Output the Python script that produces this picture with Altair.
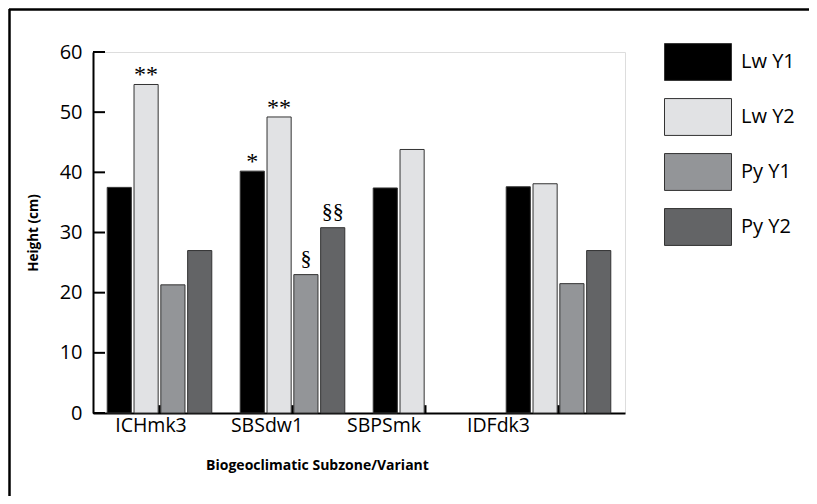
import altair as alt
import pandas as pd

categories = ["ICHmk3", "SBSdw1", "SBPSmk", "IDFdk3"]
series = ["Lw Y1", "Lw Y2", "Py Y1", "Py Y2"]
lw_y1 = [37.5, 40.2, 37.4, 37.6]
lw_y2 = [54.6, 49.2, 43.8, 38.1]
py_y1 = [21.3, 23.0, None, 21.5]
py_y2 = [27.0, 30.8, None, 27.0]
ann_lw_y1 = ["", "*", "", ""]
ann_lw_y2 = ["**", "**", "", ""]
ann_py_y1 = ["", "§", "", ""]
ann_py_y2 = ["", "§§", "", ""]
y_ticks = [0, 10, 20, 30, 40, 50, 60]
colors = ["#000000", "#e1e2e4", "#939598", "#636466"]
label_shift = [-8.5, -25.5, -41.5, -60]

rows = []
for s, vals, anns in zip(series, [lw_y1, lw_y2, py_y1, py_y2],
                         [ann_lw_y1, ann_lw_y2, ann_py_y1, ann_py_y2]):
    for c, v, a in zip(categories, vals, anns):
        if v is not None:
            rows.append({"cat": c, "series": s, "value": v, "ann": a})
df = pd.DataFrame(rows)
ticks_df = pd.DataFrame({"value": y_ticks})
cats_df = pd.DataFrame({"cat": categories})

FONT = "Open Sans"
W, H = 532, 361

label_offset = {
    "condition": [
        {"test": f"datum.label === '{c}'", "value": o}
        for c, o in zip(categories[:-1], label_shift[:-1])
    ],
    "value": label_shift[-1],
}

x_scale = alt.Scale(domain=categories, paddingInner=0, paddingOuter=0)
y_scale = alt.Scale(domain=[0, 60], nice=False)

x_enc = alt.X(
    "cat:N",
    scale=x_scale,
    sort=categories,
    axis=alt.Axis(
        title="Biogeoclimatic Subzone/Variant",
        titleFont=FONT, titleFontSize=14, titleFontWeight="bold",
        titleX=224, titleY=52, titleAlign="center", titleBaseline="middle",
        labelFont=FONT, labelFontSize=19.5, labelColor="#000",
        labelAngle=0, labelPadding=3, labelOffset=label_offset,
        ticks=False, domainColor="#000", domainWidth=2, grid=False,
    ),
)

y_enc = alt.Y(
    "value:Q",
    scale=y_scale,
    axis=alt.Axis(
        title="Height (cm)",
        titleFont=FONT, titleFontSize=13.5, titleFontWeight="bold",
        titleX=-60, titleY=H / 2, titleAngle=270, titleAlign="center",
        titleBaseline="middle",
        values=y_ticks, labelFont=FONT, labelFontSize=20, labelColor="#000",
        labelPadding=11, ticks=False, domainColor="#000", domainWidth=2,
        grid=False,
    ),
)

legend = alt.Legend(
    title=None, orient="none", legendX=571, legendY=-24,
    symbolType="M-1,-0.55L1,-0.55L1,0.55L-1,0.55Z", symbolSize=4489,
    symbolStrokeColor="#333", symbolStrokeWidth=1, symbolOpacity=1,
    labelFont=FONT, labelFontSize=20, labelColor="#000", labelOffset=9,
    rowPadding=-4, padding=0,
)

bars = alt.Chart(df).mark_bar(stroke="#333", strokeWidth=1).encode(
    x=x_enc,
    xOffset=alt.XOffset("series:N", sort=series,
                        scale=alt.Scale(domain=series, paddingInner=0.1, paddingOuter=0.53)),
    y=y_enc,
    color=alt.Color("series:N", sort=series,
                    scale=alt.Scale(domain=series, range=colors), legend=legend),
)

ann_stars = alt.Chart(df).transform_filter("indexof(datum.ann, '*') >= 0").mark_text(
    font="Liberation Serif", fontSize=24, baseline="alphabetic", dy=-2, color="#000"
).encode(
    x=alt.X("cat:N", scale=x_scale, sort=categories),
    xOffset=alt.XOffset("series:N", sort=series),
    y=alt.Y("value:Q", scale=y_scale),
    text="ann:N",
)

ann_sect = alt.Chart(df).transform_filter("indexof(datum.ann, '§') >= 0").mark_text(
    font="Liberation Serif", fontSize=22, baseline="alphabetic", dy=-10, color="#000"
).encode(
    x=alt.X("cat:N", scale=x_scale, sort=categories),
    xOffset=alt.XOffset("series:N", sort=series),
    y=alt.Y("value:Q", scale=y_scale),
    text="ann:N",
)

y_tick_rules = alt.Chart(ticks_df).mark_rule(color="#000", strokeWidth=2).encode(
    y=alt.Y("value:Q", scale=y_scale),
    x=alt.value(0),
    x2=alt.value(12),
)

x_tick_rules = alt.Chart(cats_df).mark_rule(color="#000", strokeWidth=2).encode(
    x=alt.X("cat:N", scale=x_scale, sort=categories),
    xOffset=alt.value(W / len(categories) / 2),
    y=alt.datum(0),
    y2=alt.datum(1.3),
)

frame_left = alt.Chart(cats_df.head(1)).mark_rule(color="#000", strokeWidth=2.5).encode(
    x=alt.value(-83.5), y=alt.value(-43), y2=alt.value(H + 90)
)
frame_top = alt.Chart(cats_df.head(1)).mark_rule(color="#000", strokeWidth=2.5).encode(
    y=alt.value(-42.5), x=alt.value(-84), x2=alt.value(W + 184)
)

chart = alt.layer(frame_left, frame_top, bars, ann_stars, ann_sect,
                  y_tick_rules, x_tick_rules).properties(
    width=W, height=H,
    autosize=alt.AutoSizeParams(type="none"),
    padding={"left": 85, "top": 44, "right": 184, "bottom": 83},
).configure_view(stroke=None).configure(background="#ffffff")

chart.save("out.html", embed_options={"renderer": "svg", "actions": False})
